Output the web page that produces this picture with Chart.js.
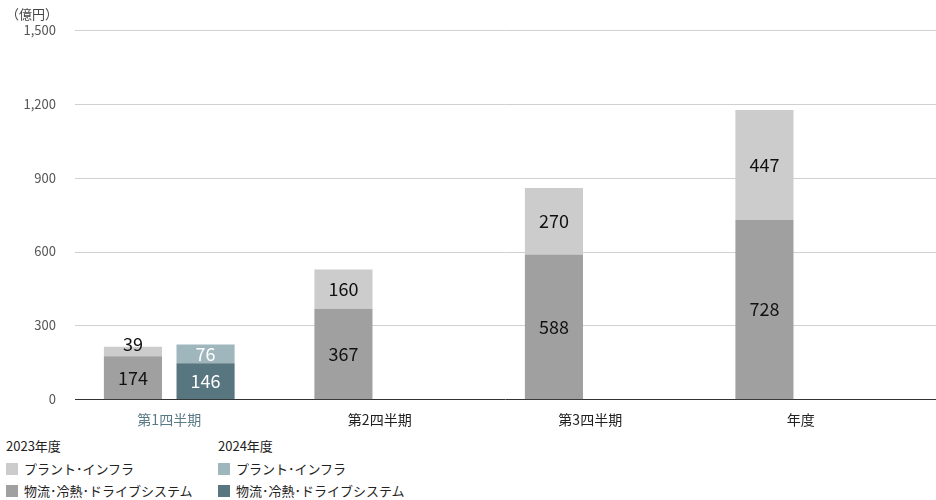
<!DOCTYPE html><html><head><meta charset="utf-8">
<script src="https://cdn.jsdelivr.net/npm/chart.js@4/dist/chart.umd.min.js"></script>
<style>
body{margin:0;background:#fff;font-family:"Noto Sans CJK JP","Noto Sans",sans-serif;}
#wrap{position:absolute;left:0;top:0;width:936px;height:432px;}
#unit{position:absolute;left:6px;top:4px;font-size:13px;color:#444;}
.lg{position:absolute;font-size:13px;color:#222;}
.sw{display:inline-block;width:12px;height:12px;vertical-align:-1px;margin-right:6px;}
</style></head><body>
<div id="wrap"><canvas id="c"></canvas></div>
<div id="unit">（億円）</div>
<div class="lg" style="left:6px;top:436px">2023年度</div>
<div class="lg" style="left:6px;top:459px"><span class="sw" style="background:#cccccc"></span>プラント･インフラ</div>
<div class="lg" style="left:6px;top:481px"><span class="sw" style="background:#a0a0a0"></span>物流･冷熱･ドライブシステム</div>
<div class="lg" style="left:218px;top:436px">2024年度</div>
<div class="lg" style="left:218px;top:459px"><span class="sw" style="background:#9fb6bd"></span>プラント･インフラ</div>
<div class="lg" style="left:218px;top:481px"><span class="sw" style="background:#587680"></span>物流･冷熱･ドライブシステム</div>
<script>
const categories=["第1四半期","第2四半期","第3四半期","年度"];
const logi2023=[174,367,588,728];
const plant2023=[39,160,270,447];
const logi2024=[146,null,null,null];
const plant2024=[76,null,null,null];
const yTicks=[0,300,600,900,1200,1500];

const gridPlugin={id:'grid',beforeDatasetsDraw(ch){const c=ch.ctx,y=ch.scales.y;c.save();c.strokeStyle='#d0d0d0';c.lineWidth=1;
 yTicks.forEach(v=>{if(v===0)return;const p=Math.round(y.getPixelForValue(v))+0.5;c.beginPath();c.moveTo(75,p);c.lineTo(936,p);c.stroke();});
 const p=Math.round(y.getPixelForValue(0))+0.5;c.strokeStyle='#333';c.beginPath();c.moveTo(75,p);c.lineTo(936,p);c.stroke();c.restore();}};
const labelPlugin={id:'lbl',afterDatasetsDraw(ch){const c=ch.ctx;c.save();c.font='18px "Noto Sans CJK JP"';c.textAlign='center';c.textBaseline='middle';
 ch.data.datasets.forEach((ds,i)=>{ch.getDatasetMeta(i).data.forEach((el,j)=>{const v=ds.data[j];if(v==null)return;
  c.fillStyle=ds.stack==='b'?'#fff':'#111';let yy=(el.y+el.base)/2;if(v<60)yy=el.y-3;c.fillText(v,el.x,yy);});});c.restore();}};

new Chart(document.getElementById('c'),{type:'bar',
data:{labels:categories,datasets:[
 {data:logi2023,backgroundColor:'#a0a0a0',stack:'a'},
 {data:plant2023,backgroundColor:'#cccccc',stack:'a'},
 {data:logi2024,backgroundColor:'#587680',stack:'b'},
 {data:plant2024,backgroundColor:'#9fb6bd',stack:'b'}]},
options:{responsive:true,maintainAspectRatio:false,animation:false,
 layout:{padding:{top:30,right:30,left:0,bottom:0}},
 datasets:{bar:{categoryPercentage:0.69,barPercentage:0.8}},
 plugins:{legend:{display:false},tooltip:{enabled:false}},
 scales:{
  x:{grid:{display:false},border:{display:false},ticks:{font:{size:14,family:'"Noto Sans CJK JP"'},padding:4,
     color:ctx=>ctx.index===0?'#5b7a87':'#222'}},
  y:{stacked:true,min:0,max:1500,afterBuildTicks:s=>{s.ticks=yTicks.map(v=>({value:v}));},afterFit:s=>{s.width=64;},
     grid:{display:false},border:{display:false},
     ticks:{color:'#555',font:{size:13,family:'"Noto Sans CJK JP"'},padding:0,callback:v=>v.toLocaleString('en-US')}}}},
plugins:[gridPlugin,labelPlugin]});
</script></body></html>
